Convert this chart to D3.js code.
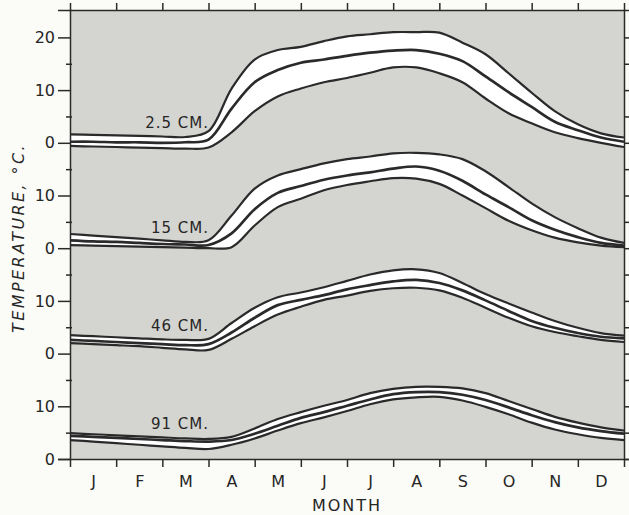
<!DOCTYPE html>
<meta charset="utf-8">
<style>
body{
	margin: 0;
	background: #fbfbf7;
}
text{
	font-family: "DejaVu Sans", sans-serif;
	fill: #262626;
}
.axis path,
.axis line{
	fill: none;
	stroke: #2a2a2a;
	stroke-width: 1.5;
}
.axis text{
	font-size: 16px;
	font-family: "DejaVu Sans", sans-serif;
	fill: #262626;
}
.band{
	fill: #fff;
}
.curve{
	fill: none;
	stroke: #2a2a2a;
}
</style>
<svg class="chart"></svg>
<script src="https://cdn.jsdelivr.net/npm/d3@7/dist/d3.min.js"></script>
<script>
// half-month positions, 0 = 1 Jan, 12 = 31 Dec
var monthPos = [0,0.5,1,1.5,2,2.5,3,3.5,4,4.5,5,5.5,6,6.5,7,7.5,8,8.5,9,9.5,10,10.5,11,11.5,12];
var months = ["J","F","M","A","M","J","J","A","S","O","N","D"];
var depths = ["2.5 CM.","15 CM.","46 CM.","91 CM."];
var offsets = [60,40,20,0];

var max25  = [1.6,1.5,1.4,1.3,1.2,1.1,2.2,10.3,15.8,17.6,18.2,19.3,20.2,20.6,21.0,21.0,20.9,19.0,16.8,13.2,9.5,6.0,3.5,1.8,1.0];
var mean25 = [0.2,0.2,0.1,0.1,0.0,0.1,0.6,6.5,11.5,13.8,15.2,15.8,16.5,17.1,17.5,17.6,16.9,15.5,12.6,9.6,6.8,4.0,2.4,1.0,0.2];
var min25  = [-0.6,-0.7,-0.8,-0.9,-1.0,-1.1,-0.9,2.0,6.0,8.8,10.3,11.5,12.3,13.3,14.3,14.3,13.2,11.5,8.4,5.6,3.7,2.0,0.9,0.0,-0.8];

var max15  = [2.7,2.4,2.1,1.8,1.5,1.2,1.5,6.2,11.3,13.8,15.0,16.1,16.9,17.4,18.0,18.1,17.8,16.9,14.6,11.6,8.5,5.9,3.8,2.0,1.0];
var mean15 = [1.5,1.3,1.2,1.0,0.8,0.7,0.6,2.8,7.4,10.5,11.8,13.0,13.8,14.4,15.1,15.5,14.7,12.8,10.2,7.8,5.3,3.5,2.1,1.0,0.5];
var min15  = [0.6,0.5,0.4,0.3,0.2,0.1,0.0,0.2,4.3,7.8,9.4,11.0,12.0,12.7,13.3,13.2,12.2,10.0,7.6,5.2,3.4,2.0,1.1,0.5,0.2];

var max46  = [3.5,3.3,3.1,2.9,2.7,2.6,2.8,5.8,8.7,10.7,11.6,12.6,13.8,15.0,15.8,16.0,15.3,13.4,11.3,9.5,7.8,6.2,4.9,3.9,3.4];
var mean46 = [2.6,2.4,2.2,2.0,1.8,1.6,1.8,4.0,6.8,9.2,10.2,11.1,12.2,13.0,13.7,14.0,13.4,12.0,10.1,8.1,6.2,4.9,3.9,3.2,2.9];
var min46  = [2.0,1.8,1.6,1.4,1.1,0.8,0.7,2.8,5.2,7.4,8.9,10.2,11.0,11.9,12.4,12.5,12.0,10.6,8.7,6.8,5.2,4.1,3.3,2.6,2.2];

var max91  = [4.9,4.7,4.5,4.3,4.1,3.9,3.8,4.2,5.8,7.6,8.9,10.1,11.2,12.5,13.3,13.7,13.7,13.4,12.5,11.0,9.5,8.0,6.9,6.0,5.4];
var mean91 = [4.4,4.2,4.0,3.8,3.6,3.4,3.3,3.6,4.8,6.3,7.8,8.9,10.1,11.3,12.3,12.7,12.7,12.2,11.2,9.8,8.3,7.0,6.0,5.3,4.8];
var min91  = [3.6,3.3,3.0,2.7,2.4,2.1,1.9,2.7,3.9,5.4,6.8,7.9,9.1,10.4,11.3,11.7,11.8,11.1,9.9,8.5,6.9,5.6,4.7,4.0,3.6];

var panels = [
	{label: depths[0], off: offsets[0], max: max25, mean: mean25, min: min25},
	{label: depths[1], off: offsets[1], max: max15, mean: mean15, min: min15},
	{label: depths[2], off: offsets[2], max: max46, mean: mean46, min: min46},
	{label: depths[3], off: offsets[3], max: max91, mean: mean91, min: min91}
];

var width = 629, height = 515;
var plotL = 70, plotR = 624, plotT = 10, plotB = 459;

var x = d3.scaleLinear().domain([0,12]).range([plotL, plotR]);
var y = d3.scaleLinear().domain([0,85.2]).range([plotB, plotT]);

var svg = d3.select(".chart")
	.attr("width", width)
	.attr("height", height);

svg.append("defs").append("clipPath").attr("id","clip")
	.append("rect")
		.attr("x", plotL).attr("y", plotT)
		.attr("width", plotR-plotL).attr("height", plotB-plotT);

svg.append("rect")
	.attr("x", plotL).attr("y", plotT)
	.attr("width", plotR-plotL).attr("height", plotB-plotT)
	.attr("fill", "#d4d4d1");

var plot = svg.append("g").attr("clip-path","url(#clip)");

var curve = d3.curveCatmullRom.alpha(0.5);

panels.forEach(function(p){
	var area = d3.area()
		.x(function(d,i){ return x(monthPos[i]); })
		.y0(function(d,i){ return y(p.min[i] + p.off); })
		.y1(function(d,i){ return y(p.max[i] + p.off); })
		.curve(curve);
	plot.append("path")
		.attr("class","band")
		.attr("d", area(monthPos));

	[p.max, p.mean, p.min].forEach(function(s, k){
		var line = d3.line()
			.x(function(d,i){ return x(monthPos[i]); })
			.y(function(d){ return y(d + p.off); })
			.curve(curve);
		plot.append("path")
			.attr("class","curve")
			.attr("stroke-width", k==1 ? 2.7 : 2.2)
			.attr("d", line(s));
	});

	svg.append("text")
		.attr("x", 209)
		.attr("y", y(p.max[5] + p.off) - 9)
		.attr("text-anchor","end")
		.style("font-size","15px")
		.style("letter-spacing","1px")
		.text(p.label);
});

// axes
var yTicks = d3.range(0, 81, 5);
var leftAxis = svg.append("g")
	.attr("class","axis")
	.attr("transform","translate(" + plotL + ",0)")
	.call(d3.axisLeft(y).tickValues(yTicks).tickSize(12).tickPadding(3)
		.tickFormat(function(v){
			if (v % 10 != 0) return "";
			if (v == 80) return "20";
			return v % 20 == 0 ? "0" : "10";
		}));
leftAxis.selectAll(".tick line")
	.attr("x1", function(v){ return v % 10 == 0 ? 0 : 2; })
	.attr("x2", function(v){ return v % 10 == 0 ? -12 : -4; });
leftAxis.select(".domain").attr("stroke-width", 2);

svg.append("g")
	.attr("class","axis")
	.attr("transform","translate(" + plotR + ",0)")
	.call(d3.axisRight(y).tickValues(yTicks).tickSize(5).tickFormat(""));

svg.append("g")
	.attr("class","axis")
	.attr("transform","translate(0," + plotT + ")")
	.call(d3.axisTop(x).tickValues(d3.range(1,12)).tickSize(7).tickFormat(""));

svg.append("g")
	.attr("class","axis")
	.attr("transform","translate(0," + plotB + ")")
	.call(d3.axisBottom(x).tickValues(d3.range(1,12)).tickSize(8).tickFormat(""));

var monthAxis = svg.append("g")
	.attr("class","axis")
	.attr("transform","translate(0," + plotB + ")")
	.call(d3.axisBottom(x).tickValues(d3.range(0.5,12,1)).tickSize(0).tickPadding(17)
		.tickFormat(function(d,i){ return months[i]; }));
monthAxis.select(".domain").remove();

svg.append("text")
	.attr("x", (plotL+plotR)/2)
	.attr("y", 511)
	.attr("text-anchor","middle")
	.style("font-size","16px")
	.style("letter-spacing","2px")
	.text("MONTH");

svg.append("text")
	.attr("transform","translate(24," + 238 + ") rotate(-90)")
	.attr("text-anchor","middle")
	.style("font-size","16px")
	.style("font-style","italic")
	.style("letter-spacing","2.4px")
	.text("TEMPERATURE, °C.");
</script>
